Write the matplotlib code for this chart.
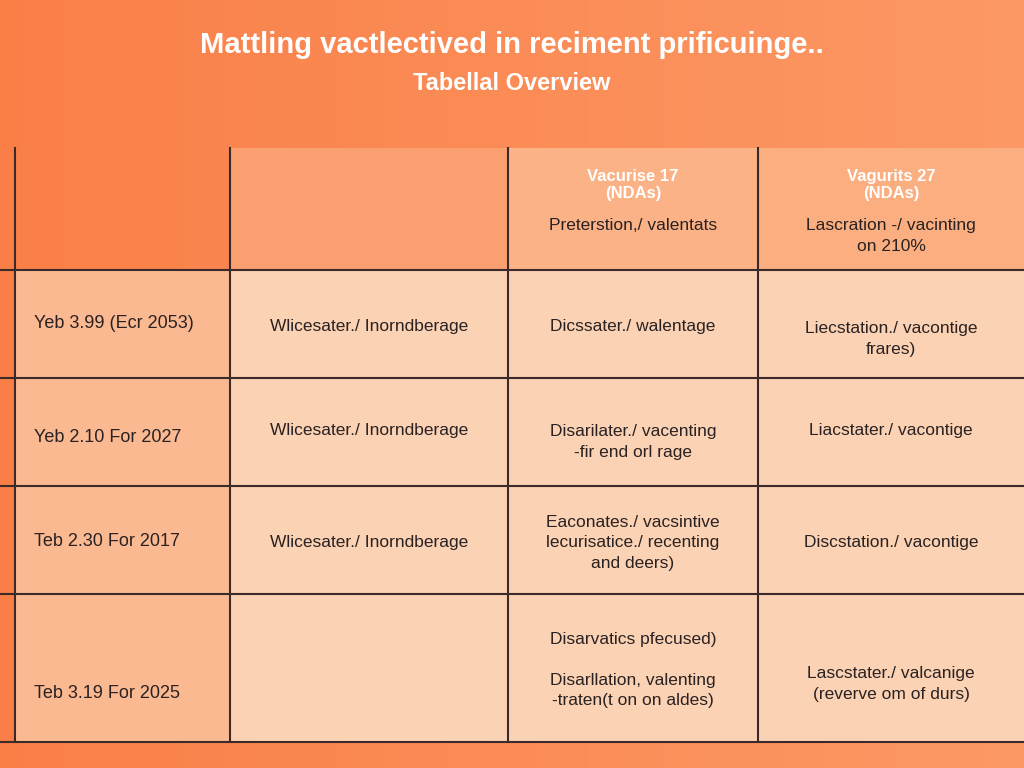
import matplotlib
matplotlib.use("Agg")
import matplotlib.pyplot as plt
import numpy as np
from matplotlib.patches import Rectangle

plt.rcParams["font.family"] = "Liberation Sans"

title = "Mattling vactlectived in reciment prificuinge.."
subtitle = "Tabellal Overview"
header_titles = ["", "", "Vacurise 17\n(NDAs)", "Vagurits 27\n(NDAs)"]
header_notes = ["", "", "Preterstion,/ valentats", "Lascration -/ vacinting\non 210%"]
rows = [
    ["Yeb 3.99 (Ecr 2053)", "Wlicesater./ Inorndberage", "Dicssater./ walentage", "Liecstation./ vacontige\nfrares)"],
    ["Yeb 2.10 For 2027", "Wlicesater./ Inorndberage", "Disarilater./ vacenting\n-fir end orl rage", "Liacstater./ vacontige"],
    ["Teb 2.30 For 2017", "Wlicesater./ Inorndberage", "Eaconates./ vacsintive\nlecurisatice./ recenting\nand deers)", "Discstation./ vacontige"],
    ["Teb 3.19 For 2025", "", "Disarvatics pfecused)\n\nDisarllation, valenting\n-traten(t on on aldes)", "Lascstater./ valcanige\n(reverve om of durs)"],
]

xs = [15, 230, 508, 758, 1024]
ys = [148, 270, 378, 486, 594, 742]

fig = plt.figure(figsize=(10.24, 7.68), dpi=100)
ax = fig.add_axes([0, 0, 1, 1])
ax.set_xlim(0, 1024); ax.set_ylim(768, 0); ax.axis("off")

c0 = np.array([0.98, 0.50, 0.28]); c1 = np.array([0.99, 0.60, 0.40])
img = c0 + (c1 - c0) * np.dstack([np.tile(np.linspace(0, 1, 256), (256, 1))] * 3)
ax.imshow(img, extent=[0, 1024, 768, 0], aspect="auto", zorder=0)

ax.text(512, 45, title, ha="center", va="center", color="white", fontsize=21, fontweight="bold", zorder=5)
ax.text(512, 83, subtitle, ha="center", va="center", color="white", fontsize=17, fontweight="bold", zorder=5)

hdr_colors = [None, "#FAA070", "#FBB286", "#FBAE80"]
for j in range(4):
    if hdr_colors[j]:
        ax.add_patch(Rectangle((xs[j], ys[0]), xs[j+1]-xs[j], ys[1]-ys[0], fc=hdr_colors[j], ec="none", zorder=1))
for i in range(4):
    for j in range(4):
        fc = "#FBB992" if j == 0 else "#FCD2B4"
        ax.add_patch(Rectangle((xs[j], ys[i+1]), xs[j+1]-xs[j], ys[i+2]-ys[i+1], fc=fc, ec="none", zorder=1))

for x in xs[:-1]:
    ax.plot([x, x], [ys[0], ys[-1]], color="#3a2a2a", lw=1.5, zorder=3)
for y in ys[1:]:
    ax.plot([0, 1024], [y, y], color="#3a2a2a", lw=1.5, zorder=3)

for j in range(4):
    if not header_titles[j]:
        continue
    cx = (xs[j]+xs[j+1])/2
    ax.text(cx, 185, header_titles[j], ha="center", va="center", color="white",
            fontsize=12, fontweight="bold", linespacing=1.1, zorder=5)
    ax.text(cx, 218, header_notes[j], ha="center", va="top", color="#2a2222",
            fontsize=12.5, linespacing=1.5, zorder=5)

offsets = [[0, 3, 3, 15], [5, -2, 10, -2], [2, 2, 3, 2], [25, 0, 2, 16]]
for i, row in enumerate(rows):
    cy = (ys[i+1] + ys[i+2]) / 2
    for j, t in enumerate(row):
        if not t:
            continue
        if j == 0:
            ax.text(34, cy + offsets[i][j], t, ha="left", va="center", color="#2a2222", fontsize=13, zorder=5)
        else:
            ax.text((xs[j]+xs[j+1])/2, cy + offsets[i][j], t, ha="center", va="center",
                    color="#2a2222", fontsize=12.5, linespacing=1.45, zorder=5)

fig.savefig("out.png", dpi=100)
